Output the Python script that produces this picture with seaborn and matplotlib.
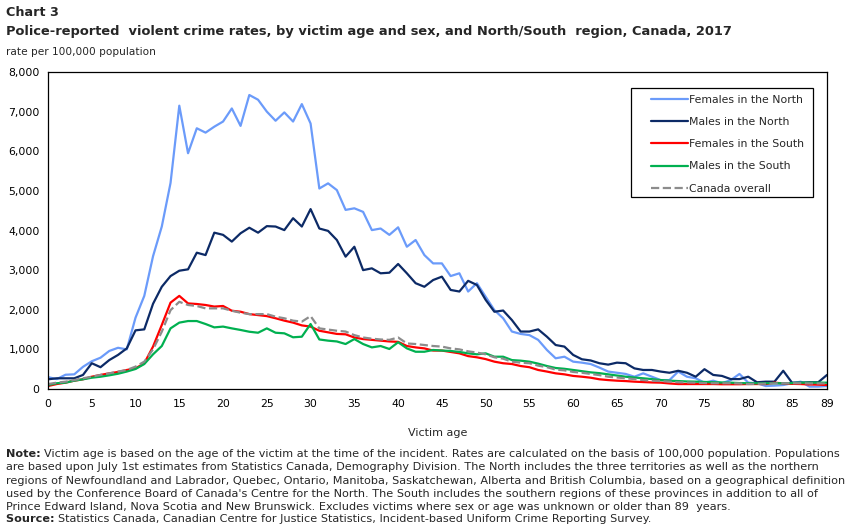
import numpy as np
import pandas as pd
import matplotlib
matplotlib.use('Agg')
import matplotlib.pyplot as plt
import matplotlib.patches as mpatches
import seaborn as sns
from matplotlib.ticker import FuncFormatter

# datos (tasa por 100 000 habitantes, edad 0-89)
edades = list(range(0, 90))

mujeres_norte = [300, 250, 360, 370, 560, 700, 790, 960, 1040, 1000,
                 1800, 2350, 3350, 4100, 5200, 7150, 5950, 6580, 6470, 6620,
                 6750, 7080, 6640, 7420, 7300, 7000, 6770, 6980, 6750, 7190,
                 6700, 5060, 5190, 5020, 4520, 4560, 4470, 4010, 4050, 3890,
                 4080, 3590, 3760, 3380, 3170, 3170, 2850, 2920, 2460, 2670,
                 2330, 1990, 1785, 1450, 1390, 1360, 1240, 985, 775, 815,
                 690, 665, 630, 540, 440, 410, 380, 310, 395, 310,
                 225, 225, 440, 310, 270, 160, 210, 145, 225, 380,
                 160, 145, 75, 85, 100, 145, 185, 60, 60, 75]

hombres_norte = [245, 270, 270, 270, 355, 650, 550, 730, 860, 1025,
                 1480, 1505, 2150, 2580, 2850, 2985, 3020, 3440, 3380, 3945,
                 3890, 3720, 3930, 4070, 3945, 4110, 4100, 4010, 4310, 4100,
                 4540, 4050, 3990, 3760, 3340, 3590, 3000, 3045, 2920, 2935,
                 3155, 2920, 2670, 2580, 2750, 2835, 2500, 2460, 2730, 2625,
                 2250, 1950, 1980, 1740, 1450, 1450, 1505, 1320, 1110, 1070,
                 860, 750, 720, 650, 615, 665, 650, 520, 480, 480,
                 440, 410, 460, 410, 310, 500, 355, 330, 250, 250,
                 310, 170, 185, 185, 460, 160, 160, 170, 170, 355]

mujeres_sur = [75, 125, 160, 210, 245, 310, 355, 395, 430, 480,
               520, 650, 1070, 1615, 2180, 2350, 2160, 2145, 2120, 2080,
               2095, 1975, 1950, 1890, 1865, 1840, 1785, 1725, 1675, 1605,
               1575, 1470, 1430, 1390, 1380, 1300, 1260, 1240, 1220, 1200,
               1190, 1085, 1050, 1025, 970, 970, 935, 900, 830, 800,
               755, 690, 650, 630, 580, 550, 480, 440, 395, 370,
               330, 310, 285, 245, 225, 210, 200, 185, 175, 165,
               160, 140, 125, 125, 125, 125, 125, 120, 120, 120,
               125, 125, 125, 160, 140, 130, 125, 115, 110, 100]

hombres_sur = [100, 145, 160, 210, 245, 285, 310, 345, 385, 440,
               505, 630, 875, 1085, 1530, 1675, 1715, 1715, 1640, 1555,
               1575, 1530, 1490, 1445, 1420, 1530, 1420, 1405, 1305, 1320,
               1640, 1250, 1220, 1200, 1135, 1260, 1135, 1050, 1085, 1010,
               1180, 1025, 940, 940, 985, 970, 960, 935, 900, 875,
               900, 815, 815, 730, 715, 690, 640, 580, 530, 510,
               480, 450, 420, 400, 370, 340, 310, 290, 270, 250,
               225, 210, 200, 190, 185, 178, 170, 165, 160, 150,
               145, 145, 145, 145, 145, 150, 160, 160, 160, 160]

canada = [125, 160, 185, 225, 270, 310, 355, 395, 440, 480,
          565, 690, 1000, 1445, 1990, 2200, 2120, 2095, 2035, 2035,
          2035, 1975, 1925, 1890, 1890, 1890, 1825, 1785, 1725, 1700,
          1840, 1530, 1500, 1470, 1450, 1360, 1300, 1270, 1250, 1240,
          1300, 1150, 1135, 1110, 1085, 1070, 1025, 1000, 950, 920,
          875, 800, 765, 690, 665, 650, 590, 550, 490, 470,
          430, 410, 380, 350, 310, 290, 270, 250, 225, 210,
          200, 185, 170, 165, 160, 150, 145, 145, 145, 140,
          125, 130, 135, 140, 145, 145, 145, 140, 140, 140]

nombres = ['Females in the North', 'Males in the North', 'Females in the South',
           'Males in the South', 'Canada overall']
colores = ['#6B9BFA', '#0C2A66', '#FF0000', '#00B050', '#8C8C8C']
estilos = ['-', '-', '-', '-', '--']
series = [mujeres_norte, hombres_norte, mujeres_sur, hombres_sur, canada]

sns.set_style('white')
plt.rcParams['font.family'] = ['DejaVu Sans']

W, H = 851, 530
fig = plt.figure(figsize=(W/100, H/100), dpi=100)
ax = fig.add_axes([48/W, 1 - 389/H, 779/W, 317/H])

for nom, col, ls, val in zip(nombres, colores, estilos, series):
    sns.lineplot(x=edades, y=val, color=col, linestyle=ls, linewidth=1.6,
                 label=nom, ax=ax)

ax.set_xlim(0, 89)
ax.set_ylim(0, 8000)
ax.set_xticks(list(range(0, 90, 5)) + [89])
ax.set_yticks(range(0, 8001, 1000))
ax.yaxis.set_major_formatter(FuncFormatter(lambda v, p: f'{int(v):,}'))
ax.tick_params(axis='both', direction='in', length=3, width=0.8, labelsize=7.8,
               colors='black')
ax.tick_params(axis='x', pad=7)
ax.tick_params(axis='y', pad=6)
for s in ax.spines.values():
    s.set_color('black')
    s.set_linewidth(0.9)
ax.set_xlabel('Victim age', fontsize=8, labelpad=14)
ax.set_ylabel('')

# leyenda sin marco, el marco se dibuja aparte
leg = ax.legend(loc='upper left', bbox_to_anchor=(651/W, 1 - 95/H),
                bbox_transform=fig.transFigure, fontsize=7.8, frameon=False,
                handlelength=3.4, handletextpad=0.1, labelspacing=1.12,
                borderpad=0, borderaxespad=0)
fig.patches.append(mpatches.Rectangle((631/W, 1 - 197/H), 182/W, 109/H,
                                      transform=fig.transFigure, fill=False,
                                      edgecolor='black', linewidth=0.9))

fig.text(6/W, 1 - 13/H, 'Chart 3', fontsize=9.2, fontweight='bold', va='center')
fig.text(6/W, 1 - 31/H,
         'Police-reported  violent crime rates, by victim age and sex, and North/South  region, Canada, 2017',
         fontsize=9.4, fontweight='bold', va='center')
fig.text(6/W, 1 - 52/H, 'rate per 100,000 population', fontsize=7.6, va='center')

lineas = ['Victim age is based on the age of the victim at the time of the incident. Rates are calculated on the basis of 100,000 population. Populations',
          'are based upon July 1st estimates from Statistics Canada, Demography Division. The North includes the three territories as well as the northern',
          'regions of Newfoundland and Labrador, Quebec, Ontario, Manitoba, Saskatchewan, Alberta and British Columbia, based on a geographical definition',
          'used by the Conference Board of Canada\'s Centre for the North. The South includes the southern regions of these provinces in addition to all of',
          'Prince Edward Island, Nova Scotia and New Brunswick. Excludes victims where sex or age was unknown or older than 89  years.']
pos_y = [454, 467.3, 480.6, 493.9, 507.2]
fs_nota = 8.1

def texto_negrita(y, negrita, resto):
    t = fig.text(6/W, 1 - y/H, negrita, fontsize=fs_nota, fontweight='bold', va='center')
    fig.canvas.draw()
    bb = t.get_window_extent()
    fig.text(bb.x1/W, 1 - y/H, resto, fontsize=fs_nota, va='center')

for i, l in enumerate(lineas):
    if i == 0:
        texto_negrita(pos_y[i], 'Note: ', l)
    else:
        fig.text(6/W, 1 - pos_y[i]/H, l, fontsize=fs_nota, va='center')
texto_negrita(519, 'Source: ',
              'Statistics Canada, Canadian Centre for Justice Statistics, Incident-based Uniform Crime Reporting Survey.')

fig.savefig('out.png', dpi=100)
